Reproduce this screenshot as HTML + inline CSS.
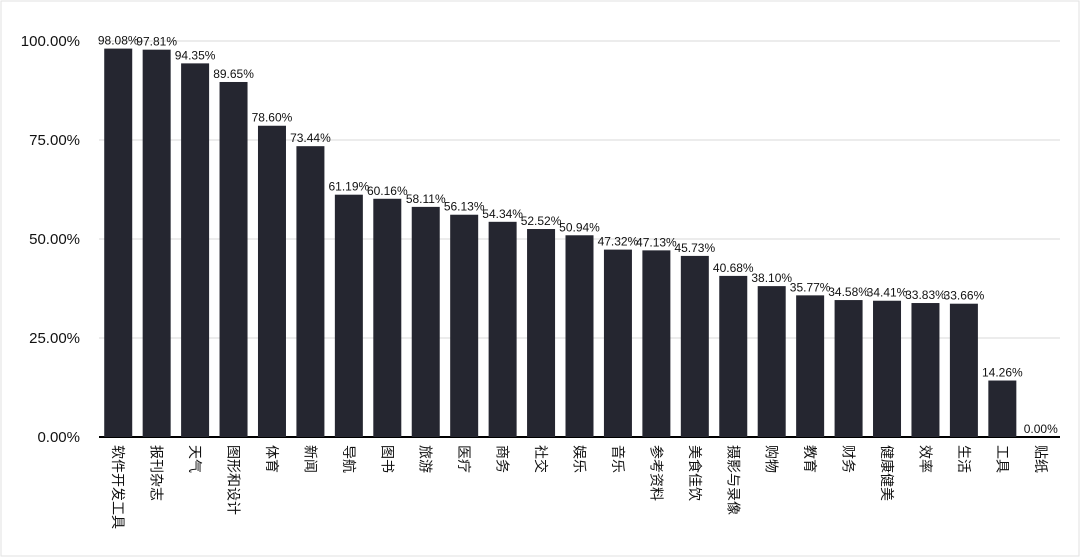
<!DOCTYPE html>
<html><head><meta charset="utf-8"><style>
html,body{margin:0;padding:0;background:#fff;}
svg{display:block;font-family:"Liberation Sans","Noto Sans CJK SC",sans-serif;}
</style></head><body>
<svg id="chart" width="1080" height="557">
<rect x="1" y="1" width="1078" height="555" fill="#fff" stroke="#e2e2e2"/>
<g id="grid"></g><g id="bars"></g><g id="labels"></g>
</svg>
<script>
const categories=["软件开发工具","报刊杂志","天气","图形和设计","体育","新闻","导航","图书","旅游","医疗","商务","社交","娱乐","音乐","参考资料","美食佳饮","摄影与录像","购物","教育","财务","健康健美","效率","生活","工具","贴纸"];
const values=[98.08,97.81,94.35,89.65,78.60,73.44,61.19,60.16,58.11,56.13,54.34,52.52,50.94,47.32,47.13,45.73,40.68,38.10,35.77,34.58,34.41,33.83,33.66,14.26,0.00];
const ticks=[0,25,50,75,100];
const NS="http://www.w3.org/2000/svg";
const x0=99,x1=1060,y0=437,y100=41;
const n=categories.length,step=(x1-x0)/n,bw=28;
const y=v=>y0-(v/100)*(y0-y100);
const cx=i=>x0+step*(i+0.5);
function mk(t,a,p){const e=document.createElementNS(NS,t);for(const k in a)e.setAttribute(k,a[k]);p.appendChild(e);return e;}
const g=document.getElementById('grid'),b=document.getElementById('bars'),l=document.getElementById('labels');
ticks.forEach(t=>{
  const ln=mk('line',{x1:x0,x2:x1,y1:y(t),y2:y(t),stroke:t===0?'#000':'#d9d9d9','stroke-width':t===0?2:1},g);
  
  
  const tx=mk('text',{x:80,y:y(t)+5,'text-anchor':'end','font-size':15,fill:'#111'},g);
  tx.textContent=t.toFixed(2)+'%';
  
  
});
values.forEach((v,i)=>{
  const r=mk('rect',{x:cx(i)-bw/2,y:y(v),width:bw,height:y0-y(v),fill:'#252630'},b);
  
  
  const t=mk('text',{x:cx(i),y:y(v)-4,'text-anchor':'middle','font-size':12,fill:'#111'},l);
  t.textContent=v.toFixed(2)+'%';
  
  
  const c=mk('text',{transform:`translate(${cx(i)-5},445) rotate(90)`,'font-size':14,fill:'#111'},l);
  c.textContent=categories[i];
  
  
});
</script>
</body></html>
